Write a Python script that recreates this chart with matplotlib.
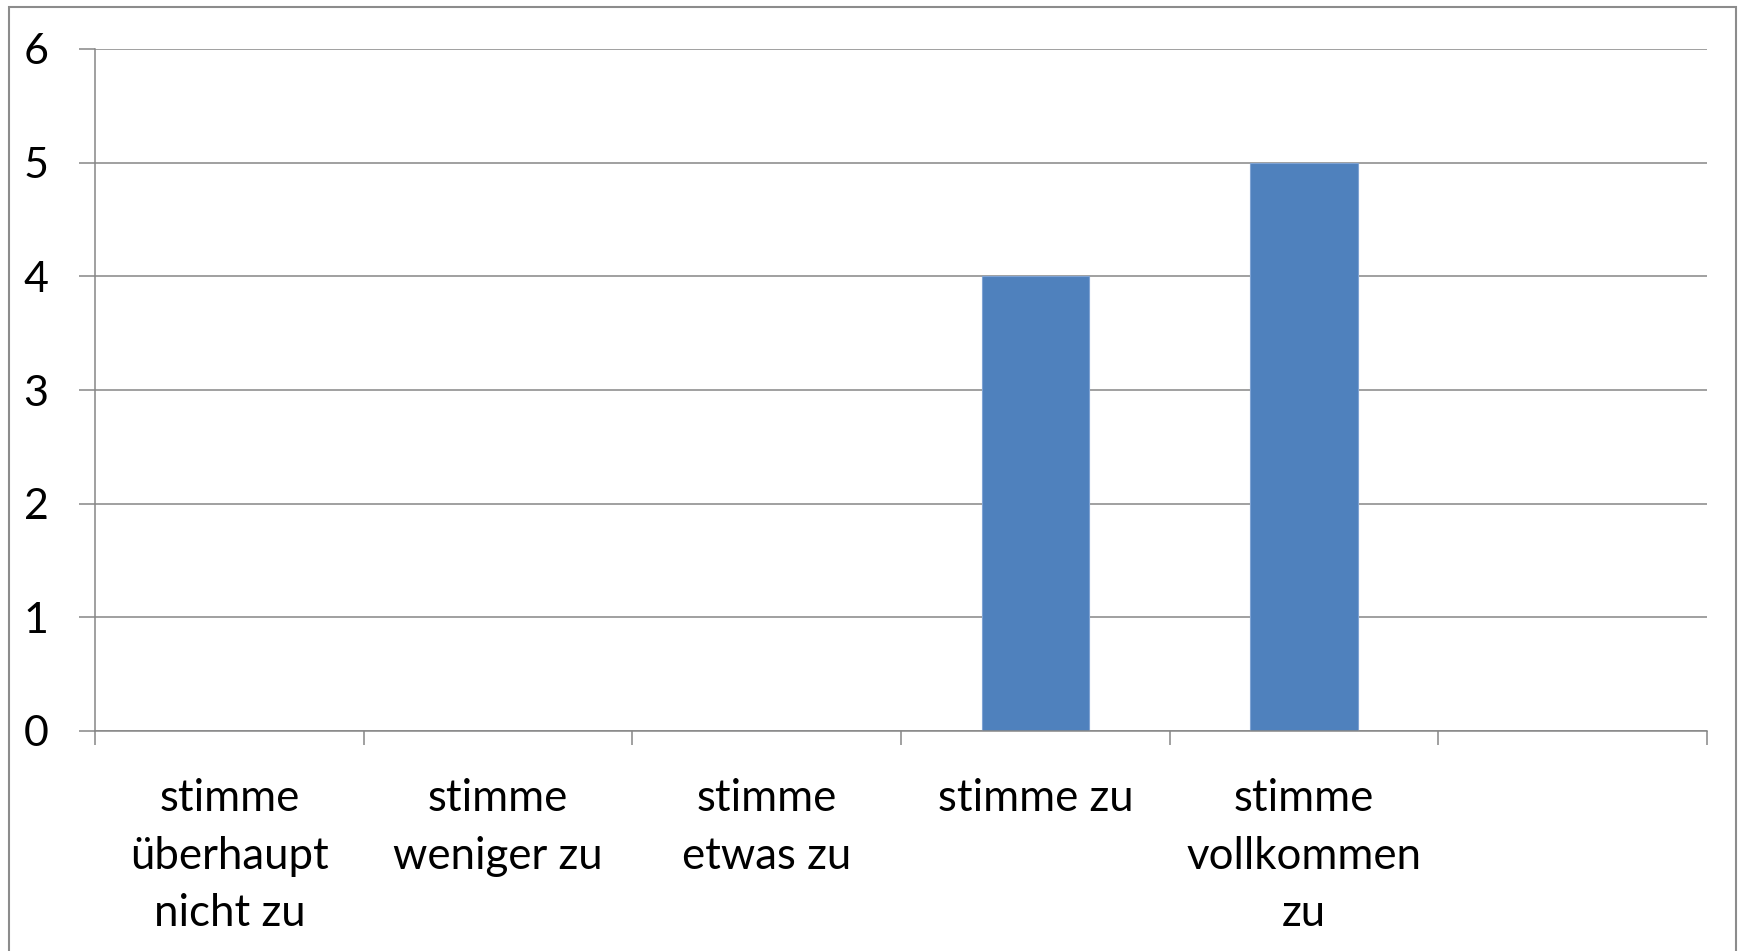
import matplotlib
matplotlib.use("Agg")
import matplotlib.pyplot as plt
from matplotlib.patches import Rectangle
from matplotlib.ticker import FixedLocator, NullFormatter

categories = ["stimme\nüberhaupt\nnicht zu", "stimme\nweniger zu", "stimme\netwas zu",
              "stimme zu", "stimme\nvollkommen\nzu", ""]
values = [0, 0, 0, 4, 5, 0]
yticks = [0, 1, 2, 3, 4, 5, 6]

W, H = 1741, 951
fig = plt.figure(figsize=(W / 100, H / 100), dpi=100)
fig.patch.set_facecolor("white")
ax = fig.add_axes([95 / W, 1 - 731 / H, (1707 - 95) / W, (731 - 49) / H])

plt.rcParams['font.family'] = ['Lato', 'DejaVu Sans']
grid_c = "#868686"

x = list(range(len(categories)))
ax.bar(x, values, width=0.4, color="#4F81BD", edgecolor="#7FA3D3", linewidth=0.8, zorder=3)

ax.set_xlim(-0.5, len(categories) - 0.5)
ax.set_ylim(0, 6)
ax.set_yticks(yticks)
ax.set_yticklabels([str(v) for v in yticks], fontsize=31, family=['Lato', 'DejaVu Sans'])
ax.set_xticks(x)
ax.set_xticklabels(categories, fontsize=31.5, family=['Lato', 'DejaVu Sans'], linespacing=1.5)
ax.xaxis.set_minor_locator(FixedLocator([i - 0.5 for i in range(len(categories) + 1)]))
ax.xaxis.set_minor_formatter(NullFormatter())
ax.tick_params(axis="x", which="major", length=0, pad=34)
ax.tick_params(axis="x", which="minor", length=10, width=1.1, color=grid_c, direction="out")
ax.tick_params(axis="y", which="major", length=11.5, width=1.1, color=grid_c, pad=22)

ax.grid(axis="y", color=grid_c, linewidth=1.1, zorder=0)
ax.set_axisbelow(True)
for s in ["top", "right"]:
    ax.spines[s].set_visible(False)
for s in ["left", "bottom"]:
    ax.spines[s].set_color(grid_c)
    ax.spines[s].set_linewidth(1.1)
    ax.spines[s].set_zorder(4)

border = Rectangle((9 / W, -0.02), (1736 - 9) / W, 1 - 7 / H + 0.02,
                   transform=fig.transFigure, fill=False, edgecolor="#8c8c8c",
                   linewidth=1.5, clip_on=False)
fig.patches.append(border)

fig.savefig("out.png", dpi=100, facecolor="white")
